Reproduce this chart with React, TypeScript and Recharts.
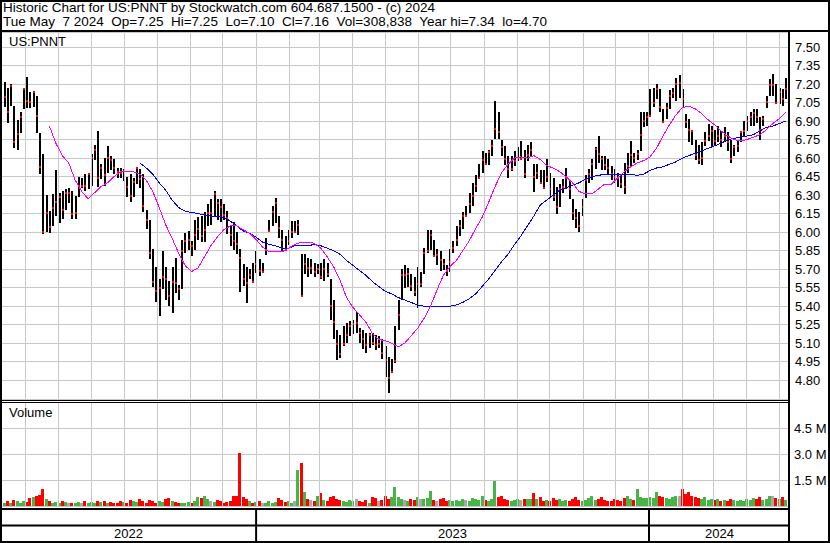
import React from 'react';
import {
  ComposedChart,
  Bar,
  Line,
  XAxis,
  YAxis,
  CartesianGrid,
  ReferenceLine,
  ReferenceArea,
  Cell,
} from 'recharts';

// ---- time frame ----
const START = Date.UTC(2022, 4, 9);
const DAY_SPAN = 733;
const BAR_STEP_DAYS = 3;

// ---- OHLC (two-day bars) ----
const highs = [
  7.22, 7.22, 7.17, 7.2, 7.02, 6.91, 6.97, 7.17, 7.26, 7.14,
  7.14, 7.1, 6.8, 6.63, 6.3, 6.17, 6.31, 6.5, 6.32, 6.33,
  6.35, 6.36, 6.33, 6.29, 6.45, 6.44, 6.47, 6.48, 6.63, 6.71,
  6.82, 6.55, 6.6, 6.7, 6.62, 6.59, 6.52, 6.52, 6.51, 6.45,
  6.47, 6.44, 6.52, 6.51, 6.47, 6.18, 6.1, 5.86, 5.72, 5.62,
  5.85, 5.72, 5.6, 5.72, 5.79, 5.57, 5.94, 5.99, 6.01, 5.93,
  6.1, 6.12, 6.13, 6.16, 6.23, 6.27, 6.33, 6.27, 6.27, 6.23,
  6.17, 6.05, 6.08, 6.0, 5.86, 5.74, 5.72, 5.7, 5.75, 5.85,
  5.78, 5.75, 5.95, 6.1, 6.21, 6.28, 6.13, 6.02, 5.97, 6.02,
  6.09, 6.09, 6.1, 5.82, 5.82, 5.79, 5.78, 5.75, 5.74, 5.75,
  5.78, 5.75, 5.62, 5.45, 5.21, 5.17, 5.24, 5.26, 5.28, 5.29,
  5.35, 5.22, 5.21, 5.18, 5.18, 5.18, 5.17, 5.16, 5.13, 5.08,
  4.99, 4.97, 5.24, 5.45, 5.7, 5.73, 5.71, 5.66, 5.64, 5.72,
  5.68, 5.87, 6.02, 6.02, 5.94, 5.86, 5.85, 5.78, 5.73, 5.86,
  5.93, 6.05, 6.1, 6.16, 6.21, 6.32, 6.4, 6.46, 6.55, 6.66,
  6.64, 6.67, 6.75, 7.06, 6.97, 6.75, 6.7, 6.62, 6.62, 6.66,
  6.69, 6.74, 6.67, 6.71, 6.73, 6.55, 6.55, 6.5, 6.5, 6.59,
  6.48, 6.44, 6.37, 6.39, 6.43, 6.52, 6.42, 6.27, 6.19, 6.16,
  6.27, 6.46, 6.51, 6.59, 6.69, 6.78, 6.62, 6.62, 6.59, 6.54,
  6.51, 6.48, 6.47, 6.56, 6.64, 6.74, 6.64, 6.67, 6.97, 6.97,
  6.97, 7.16, 7.17, 7.2, 7.16, 7.0, 7.05, 7.15, 7.17, 7.25,
  7.27, 7.16, 6.96, 6.92, 6.83, 6.75, 6.71, 6.73, 6.81, 6.88,
  6.86, 6.83, 6.86, 6.82, 6.85, 6.81, 6.75, 6.71, 6.74, 6.82,
  6.9, 6.94, 6.97, 7.0, 7.0, 6.93, 6.94, 7.1, 7.24, 7.28,
  7.2, 7.17, 7.16, 7.25,
];
const lows = [
  7.04, 7.02, 6.89, 7.02, 6.68, 6.67, 6.8, 7.0, 7.01, 7.01,
  7.02, 6.8, 6.47, 5.98, 6.0, 5.99, 6.05, 6.13, 6.08, 6.1,
  6.18, 6.24, 6.1, 6.1, 6.29, 6.36, 6.33, 6.35, 6.37, 6.59,
  6.37, 6.43, 6.37, 6.48, 6.51, 6.47, 6.44, 6.44, 6.41, 6.29,
  6.24, 6.29, 6.39, 6.36, 6.16, 6.03, 5.78, 5.55, 5.44, 5.32,
  5.54, 5.45, 5.4, 5.35, 5.51, 5.45, 5.54, 5.83, 5.86, 5.81,
  5.86, 5.93, 5.92, 5.92, 6.05, 6.06, 6.13, 6.1, 6.08, 6.1,
  5.98, 5.89, 5.85, 5.82, 5.51, 5.56, 5.43, 5.62, 5.59, 5.67,
  5.64, 5.67, 5.81, 6.0, 6.05, 6.08, 5.95, 5.85, 5.85, 5.9,
  5.95, 6.0, 5.98, 5.47, 5.66, 5.64, 5.66, 5.64, 5.66, 5.62,
  5.6, 5.64, 5.29, 5.13, 4.97, 4.98, 5.08, 5.1, 5.16, 5.18,
  5.18, 5.1, 5.06, 5.02, 5.06, 5.08, 5.05, 5.06, 4.97, 4.83,
  4.7, 4.86, 4.94, 5.21, 5.45, 5.54, 5.56, 5.52, 5.49, 5.39,
  5.56, 5.66, 5.83, 5.86, 5.81, 5.73, 5.69, 5.69, 5.64, 5.67,
  5.83, 5.89, 5.97, 6.02, 6.12, 6.16, 6.21, 6.32, 6.43, 6.48,
  6.54, 6.55, 6.62, 6.75, 6.75, 6.62, 6.55, 6.44, 6.5, 6.54,
  6.58, 6.59, 6.44, 6.58, 6.62, 6.32, 6.43, 6.39, 6.35, 6.4,
  6.28, 6.25, 6.15, 6.2, 6.32, 6.35, 6.27, 6.1, 6.04, 6.0,
  6.13, 6.27, 6.4, 6.42, 6.51, 6.56, 6.51, 6.51, 6.47, 6.43,
  6.4, 6.37, 6.36, 6.31, 6.48, 6.54, 6.56, 6.59, 6.65, 6.85,
  6.86, 6.93, 7.02, 7.08, 6.97, 6.89, 6.92, 7.0, 7.09, 7.06,
  7.08, 7.01, 6.85, 6.73, 6.71, 6.59, 6.56, 6.54, 6.7, 6.74,
  6.7, 6.7, 6.73, 6.69, 6.73, 6.66, 6.56, 6.62, 6.65, 6.73,
  6.78, 6.82, 6.86, 6.86, 6.89, 6.74, 6.86, 7.0, 7.1, 7.1,
  7.04, 7.04, 7.02, 7.08,
];
const closes = [
  7.08, 7.1, 6.98, 7.18, 6.73, 6.8, 6.93, 7.16, 7.07, 7.06,
  7.14, 6.94, 6.53, 6.0, 6.15, 6.04, 6.2, 6.24, 6.29, 6.17,
  6.32, 6.32, 6.14, 6.15, 6.38, 6.38, 6.37, 6.47, 6.6, 6.67,
  6.44, 6.52, 6.46, 6.6, 6.59, 6.52, 6.49, 6.48, 6.49, 6.37,
  6.29, 6.41, 6.52, 6.43, 6.21, 6.1, 5.83, 5.59, 5.53, 5.55,
  5.64, 5.62, 5.48, 5.6, 5.59, 5.54, 5.85, 5.93, 5.94, 5.89,
  5.98, 6.02, 5.97, 6.02, 6.16, 6.16, 6.31, 6.24, 6.2, 6.14,
  6.11, 5.98, 5.92, 5.9, 5.79, 5.62, 5.59, 5.65, 5.6, 5.74,
  5.68, 5.68, 5.85, 6.01, 6.16, 6.24, 6.03, 5.94, 5.86, 5.93,
  6.0, 6.0, 6.06, 5.48, 5.74, 5.71, 5.71, 5.68, 5.7, 5.64,
  5.7, 5.66, 5.4, 5.27, 5.1, 5.01, 5.1, 5.16, 5.24, 5.26,
  5.26, 5.18, 5.14, 5.08, 5.16, 5.1, 5.09, 5.09, 5.02, 4.97,
  4.82, 4.87, 4.96, 5.33, 5.65, 5.65, 5.66, 5.56, 5.52, 5.58,
  5.58, 5.83, 5.85, 5.98, 5.81, 5.81, 5.78, 5.74, 5.68, 5.75,
  5.87, 5.94, 6.05, 6.13, 6.13, 6.23, 6.29, 6.37, 6.44, 6.59,
  6.55, 6.65, 6.7, 6.83, 6.81, 6.69, 6.6, 6.51, 6.52, 6.58,
  6.6, 6.6, 6.47, 6.63, 6.67, 6.44, 6.48, 6.4, 6.36, 6.44,
  6.35, 6.28, 6.21, 6.35, 6.37, 6.44, 6.35, 6.16, 6.12, 6.05,
  6.2, 6.42, 6.47, 6.55, 6.67, 6.63, 6.6, 6.55, 6.52, 6.48,
  6.45, 6.44, 6.39, 6.37, 6.54, 6.63, 6.6, 6.64, 6.78, 6.9,
  6.93, 6.94, 7.05, 7.16, 7.01, 6.9, 7.01, 7.1, 7.13, 7.2,
  7.2, 7.08, 6.9, 6.83, 6.82, 6.63, 6.59, 6.6, 6.74, 6.78,
  6.82, 6.74, 6.78, 6.75, 6.78, 6.73, 6.59, 6.69, 6.7, 6.81,
  6.82, 6.9, 6.93, 6.97, 6.94, 6.82, 6.92, 7.05, 7.19, 7.19,
  7.05, 7.14, 7.08, 7.16,
];

// ---- volume (millions) ----
const volumes = [
  0.25, 0.2, 0.3, 0.2, 0.35, 0.3, 0.2, 0.3, 0.25, 0.45,
  0.5, 0.6, 0.65, 1.0, 0.4, 0.3, 0.2, 0.25, 0.2, 0.3,
  0.25, 0.2, 0.15, 0.2, 0.25, 0.2, 0.3, 0.2, 0.25, 0.2,
  0.3, 0.25, 0.3, 0.2, 0.25, 0.2, 0.15, 0.3, 0.25, 0.2,
  0.35, 0.3, 0.25, 0.4, 0.3, 0.2, 0.35, 0.3, 0.2, 0.3,
  0.25, 0.4, 0.45, 0.3, 0.25, 0.2, 0.15, 0.2, 0.25, 0.2,
  0.3, 0.5, 0.45, 0.6, 0.4, 0.3, 0.25, 0.35, 0.3, 0.2,
  0.25, 0.3, 0.6, 0.55, 3.05, 0.5, 0.4, 0.3, 0.2, 0.25,
  0.3, 0.2, 0.15, 0.3, 0.2, 0.25, 0.45, 0.35, 0.25, 0.3,
  0.2, 0.3, 2.05, 2.5, 0.8, 0.4, 0.35, 0.3, 0.6, 0.75,
  0.35, 0.3, 0.5, 0.6, 0.4, 0.35, 0.3, 0.25, 0.35, 0.3,
  0.4, 0.3, 0.25, 0.35, 0.2, 0.5, 0.45, 0.3, 0.35, 0.6,
  0.4, 0.5, 1.07, 0.5, 0.4, 0.35, 0.3, 0.4, 0.35, 0.5,
  0.4, 0.4, 0.45, 0.85, 0.35, 0.3, 0.4, 0.45, 0.3, 0.35,
  0.3, 0.35, 0.3, 0.4, 0.35, 0.3, 0.45, 0.4, 0.35, 0.55,
  0.35, 0.3, 0.4, 1.45, 0.5, 0.55, 0.4, 0.35, 0.3, 0.35,
  0.4, 0.35, 0.4, 0.4, 0.4, 0.75, 0.4, 0.5, 0.3, 0.35,
  0.3, 0.45, 0.35, 0.4, 0.3, 0.35, 0.3, 0.4, 0.5, 0.35,
  0.3, 0.35, 0.45, 0.55, 0.35, 0.4, 0.5, 0.35, 0.3, 0.3,
  0.4, 0.35, 0.3, 0.45, 0.6, 0.4, 0.35, 1.0, 0.5, 0.45,
  0.45, 0.5, 0.45, 0.8, 0.6, 0.5, 0.45, 0.4, 0.5, 0.55,
  0.55, 1.0, 0.7, 0.8, 0.6, 0.5, 0.45, 0.4, 0.5, 0.35,
  0.4, 0.35, 0.4, 0.3, 0.35, 0.3, 0.4, 0.35, 0.3, 0.35,
  0.3, 0.4, 0.35, 0.45, 0.4, 0.5, 0.35, 0.4, 0.55, 0.6,
  0.45, 0.4, 0.5, 0.35,
];

// ---- moving averages (every second bar) ----
const maFastStart = 15;
const maFast = [
  6.86, 6.72, 6.62, 6.56, 6.42, 6.33, 6.27, 6.32, 6.37, 6.4,
  6.45, 6.49, 6.49, 6.49, 6.47, 6.42, 6.33, 6.2, 6.06, 5.95,
  5.83, 5.73, 5.68, 5.71, 5.8, 5.89, 5.96, 6.02, 6.05, 6.05,
  6.02, 5.99, 5.94, 5.88, 5.84, 5.84, 5.84, 5.87, 5.9, 5.92,
  5.92, 5.91, 5.87, 5.8, 5.72, 5.61, 5.47, 5.39, 5.33, 5.27,
  5.18, 5.13, 5.12, 5.1, 5.07, 5.1, 5.16, 5.22, 5.3, 5.4,
  5.53, 5.65, 5.72, 5.77, 5.85, 5.93, 6.03, 6.12, 6.24, 6.37,
  6.48, 6.55, 6.6, 6.61, 6.6, 6.62, 6.59, 6.54, 6.52, 6.49,
  6.45, 6.4, 6.33, 6.31, 6.31, 6.35, 6.39, 6.39, 6.44, 6.49,
  6.53, 6.56, 6.58, 6.61, 6.68, 6.78, 6.87, 6.95, 7.01, 7.02,
  7.0, 6.96, 6.91, 6.87, 6.82, 6.78, 6.75, 6.74, 6.75, 6.77,
  6.79, 6.83, 6.88, 6.92, 6.97,
];
const maSlowStart = 43;
const maSlow = [
  6.56, 6.52, 6.47, 6.4, 6.34, 6.26, 6.2, 6.17, 6.16, 6.15,
  6.14, 6.13, 6.13, 6.12, 6.09, 6.05, 6.01, 5.99, 5.96, 5.92,
  5.9, 5.89, 5.87, 5.87, 5.89, 5.89, 5.89, 5.9, 5.89, 5.87,
  5.85, 5.82, 5.77, 5.73, 5.69, 5.65, 5.6, 5.56, 5.52, 5.5,
  5.47, 5.45, 5.43, 5.41, 5.4, 5.4, 5.4, 5.4, 5.4, 5.41,
  5.43, 5.46, 5.5, 5.56, 5.62, 5.69, 5.76, 5.82, 5.9, 5.97,
  6.05, 6.13, 6.22, 6.26, 6.3, 6.34, 6.36, 6.38, 6.4, 6.43,
  6.45, 6.46, 6.47, 6.47, 6.47, 6.47, 6.47, 6.46, 6.47, 6.5,
  6.52, 6.53, 6.55, 6.57, 6.6, 6.62, 6.64, 6.66, 6.68, 6.7,
  6.72, 6.75, 6.76, 6.77, 6.78, 6.79, 6.82, 6.85, 6.86, 6.88,
  6.9,
];

// ---- axis ticks & labels ----
const priceTicks = [7.5, 7.35, 7.2, 7.05, 6.9, 6.75, 6.6, 6.45, 6.3, 6.15, 6.0, 5.85, 5.7, 5.55, 5.4, 5.25, 5.1, 4.95, 4.8];
const volumeTicks = [1.5, 3.0, 4.5];
const yearLabels = [2022, 2023, 2024];

const headerLine1 = 'Historic Chart for US:PNNT by Stockwatch.com 604.687.1500 - (c) 2024';
const headerLine2 = 'Tue May  7 2024  Op=7.25  Hi=7.25  Lo=7.10  Cl=7.16  Vol=308,838  Year hi=7.34  lo=4.70';
const symbolLabel = 'US:PNNT';
const volumeLabel = 'Volume';

// ---- derived ----
const dayOf = (y: number, m: number, d: number) => Math.round((Date.UTC(y, m, d) - START) / 86400000);
const monthStarts: number[] = [];
for (let k = 0; k < 24; k++) {
  const y = 2022 + Math.floor((5 + k) / 12);
  const m = (5 + k) % 12;
  monthStarts.push(dayOf(y, m, 1));
}
const yearEdges = [0, dayOf(2023, 0, 1), dayOf(2024, 0, 1), DAY_SPAN];

const data = highs.map((h, i) => {
  const fi = i - maFastStart;
  const si = i - maSlowStart;
  return {
    day: i * BAR_STEP_DAYS,
    range: [lows[i], h],
    high: h,
    low: lows[i],
    close: closes[i],
    maFast: fi >= 0 && fi % 2 === 0 && fi / 2 < maFast.length ? maFast[fi / 2] : null,
    maSlow: si >= 0 && si % 2 === 0 && si / 2 < maSlow.length ? maSlow[si / 2] : null,
    volume: volumes[i],
    dir: i === 0 ? 0 : Math.sign(Math.round((closes[i] - closes[i - 1]) * 100)),
  };
});

const FONT = '"Liberation Sans", Arial, sans-serif';
const GRID = '#c8c8c8';

const OhlcShape = (props: any) => {
  const { x, y, width, height, payload } = props;
  if (x == null || y == null || !payload) return null;
  const top = Math.round(Math.min(y, y + height));
  const h = Math.max(Math.round(Math.abs(height)), 1);
  const cx = Math.round(x + width / 2);
  const span = payload.high - payload.low || 1;
  const cy = Math.round(top + ((payload.high - payload.close) / span) * h);
  return (
    <g shapeRendering="crispEdges">
      <rect x={cx - 1} y={top} width={2} height={h} fill="#000" />
      <rect x={cx - 1} y={cy - 1} width={2} height={2} fill="#ff0000" />
    </g>
  );
};

const volColor = (d: number) => (d > 0 ? '#46b446' : d < 0 ? '#ff0000' : '#a8a8a8');

const abs = (left: number, top: number, extra: React.CSSProperties = {}): React.CSSProperties => ({
  position: 'absolute',
  left,
  top,
  ...extra,
});

export default function App() {
  return (
    <div style={abs(0, 0, { width: 830, height: 543, background: '#fff', overflow: 'hidden', fontFamily: FONT })}>
      {/* price panel */}
      <div style={abs(0, 0)}>
        <ComposedChart width={830} height={400} data={data} margin={{ top: 32, right: 0, bottom: 1, left: 1 }}>
          <XAxis type="number" dataKey="day" domain={[0, DAY_SPAN]} hide allowDataOverflow />
          <YAxis
            orientation="right"
            domain={[4.6475, 7.6225]}
            ticks={priceTicks}
            interval={0}
            width={40}
            axisLine={false}
            tickLine={false}
            tickSize={0}
            tickMargin={5}
            allowDataOverflow
            tick={{ fontSize: 13, fill: '#000', fontFamily: FONT, textAnchor: 'start' }}
            tickFormatter={(v: number) => v.toFixed(2)}
          />
          <CartesianGrid vertical={false} stroke={GRID} strokeWidth={1} shapeRendering="crispEdges" />
          {monthStarts.map((d) => (
            <ReferenceLine key={'m' + d} x={d} stroke={GRID} strokeWidth={1} shapeRendering="crispEdges" />
          ))}
          <Bar dataKey="range" barSize={2} shape={<OhlcShape />} isAnimationActive={false} />
          <Line type="linear" dataKey="maSlow" stroke="#0000ff" strokeWidth={1} dot={false} connectNulls isAnimationActive={false} shapeRendering="crispEdges" />
          <Line type="linear" dataKey="maFast" stroke="#ff00ff" strokeWidth={1} dot={false} connectNulls isAnimationActive={false} shapeRendering="crispEdges" />
        </ComposedChart>
      </div>

      {/* volume panel */}
      <div style={abs(0, 400)}>
        <ComposedChart width={830} height={110} data={data} margin={{ top: 2, right: 0, bottom: 4, left: 1 }} barCategoryGap={0}>
          <XAxis type="number" dataKey="day" domain={[0, DAY_SPAN]} hide allowDataOverflow />
          <YAxis
            orientation="right"
            domain={[0, 6]}
            ticks={volumeTicks}
            interval={0}
            width={40}
            axisLine={false}
            tickLine={false}
            tickSize={0}
            tickMargin={4}
            allowDataOverflow
            tick={{ fontSize: 13, fill: '#000', fontFamily: FONT, textAnchor: 'start' }}
            tickFormatter={(v: number) => v.toFixed(1) + ' M'}
          />
          <CartesianGrid vertical={false} stroke={GRID} strokeWidth={1} shapeRendering="crispEdges" />
          {monthStarts.map((d) => (
            <ReferenceLine key={'v' + d} x={d} stroke={GRID} strokeWidth={1} shapeRendering="crispEdges" />
          ))}
          <Bar dataKey="volume" barSize={3} isAnimationActive={false} shapeRendering="crispEdges">
            {data.map((row, i) => (
              <Cell key={i} fill={volColor(row.dir)} />
            ))}
          </Bar>
        </ComposedChart>
      </div>

      {/* year band */}
      <div style={abs(0, 508)}>
        <ComposedChart width={830} height={35} data={data} margin={{ top: 2, right: 40, bottom: 2, left: 1 }}>
          <XAxis type="number" dataKey="day" domain={[0, DAY_SPAN]} hide allowDataOverflow />
          <YAxis domain={[0, 2]} hide allowDataOverflow />
          <ReferenceLine y={1} stroke="#000" strokeWidth={2} />
          {yearEdges.slice(1, -1).map((d) => (
            <ReferenceLine key={'y' + d} x={d} stroke="#000" strokeWidth={2} />
          ))}
          {yearLabels.map((yr, k) => (
            <ReferenceArea
              key={yr}
              x1={yearEdges[k]}
              x2={yearEdges[k + 1]}
              y1={0}
              y2={1}
              fill="none"
              stroke="none"
              label={{ value: String(yr), position: 'center', fill: '#000', fontSize: 13, fontFamily: FONT }}
            />
          ))}
        </ComposedChart>
      </div>

      {/* frame */}
      <div style={abs(0, 0, { width: 830, height: 543, border: '2px solid #000', boxSizing: 'border-box' })} />
      <div style={abs(0, 30, { width: 830, height: 2, background: '#000' })} />
      <div style={abs(788, 30, { width: 2, height: 513, background: '#000' })} />
      <div style={abs(0, 400, { width: 789, height: 1, background: '#000' })} />
      <div style={abs(0, 402, { width: 789, height: 1, background: '#000' })} />
      <div style={abs(0, 508, { width: 789, height: 2, background: '#000' })} />

      {/* texts */}
      <div style={abs(3, 1, { fontSize: 13.5, lineHeight: '14px', whiteSpace: 'pre', color: '#000' })}>{headerLine1}</div>
      <div style={abs(3, 15, { fontSize: 13.5, lineHeight: '14px', whiteSpace: 'pre', color: '#000' })}>{headerLine2}</div>
      <div style={abs(9, 34, { fontSize: 13, lineHeight: '15px', color: '#000' })}>{symbolLabel}</div>
      <div style={abs(9, 405, { fontSize: 13, lineHeight: '15px', color: '#000' })}>{volumeLabel}</div>
    </div>
  );
}
